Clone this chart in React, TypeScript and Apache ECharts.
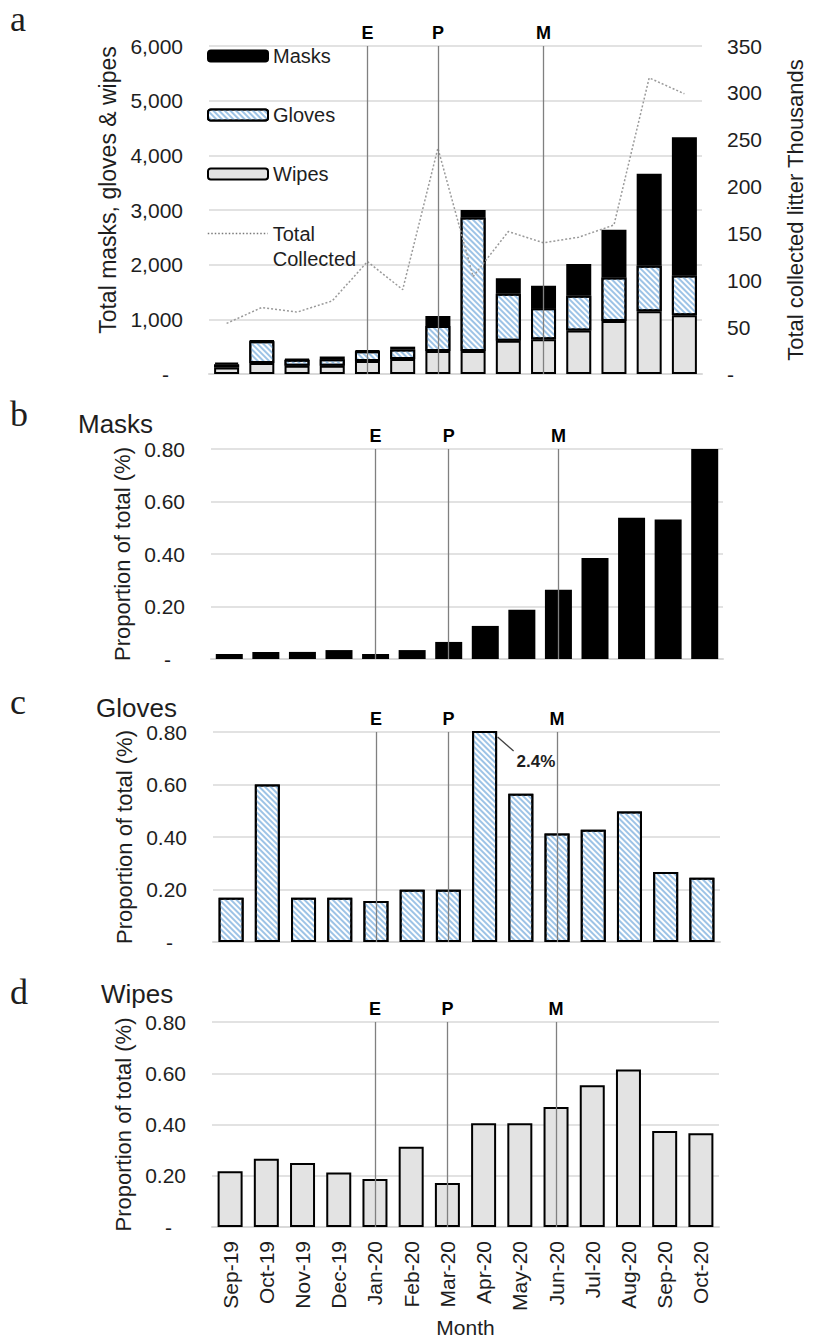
import React, { useEffect, useRef } from "react";
import * as echarts from "echarts";

const months = ["Sep-19", "Oct-19", "Nov-19", "Dec-19", "Jan-20", "Feb-20", "Mar-20", "Apr-20", "May-20", "Jun-20", "Jul-20", "Aug-20", "Sep-20", "Oct-20"];

// Panel a: counts (stacked) and total collected litter (thousands)
const wipesCount = [120, 200, 150, 150, 240, 275, 420, 420, 610, 635, 794, 971, 1148, 1075];
const glovesCount = [55, 400, 110, 120, 175, 175, 458, 2445, 856, 569, 636, 794, 831, 725];
const masksCount = [35, 10, 15, 50, 15, 50, 185, 135, 287, 409, 580, 873, 1686, 2530];
const totalCollected = [54, 71, 66, 78, 120, 90, 241, 104, 152, 140, 146, 159, 316, 299];

// Panels b-d: proportion of total (%)
const masksProp = [0.019, 0.027, 0.027, 0.034, 0.019, 0.034, 0.065, 0.126, 0.188, 0.264, 0.385, 0.538, 0.531, 0.8];
const glovesProp = [0.169, 0.6, 0.169, 0.169, 0.156, 0.199, 0.199, 2.4, 0.565, 0.413, 0.428, 0.497, 0.267, 0.245];
const wipesProp = [0.218, 0.266, 0.25, 0.213, 0.187, 0.313, 0.172, 0.405, 0.405, 0.468, 0.553, 0.615, 0.375, 0.366];

const eventMonths = ["Jan-20", "Mar-20", "Jun-20"];
const eventLabels = ["E", "P", "M"];

const leftTicks = [0, 1000, 2000, 3000, 4000, 5000, 6000];
const propTicks = [0, 0.2, 0.4, 0.6, 0.8];

const SANS = '"Liberation Sans", Arial, sans-serif';
const SERIF = '"Liberation Serif", "Times New Roman", serif';
const TXT = "#1e1e1e";
const GRID_COLOR = "#d9d9d9";

const glovesDecal = {
  symbol: "rect",
  symbolSize: 1,
  color: "#9dc3e6",
  backgroundColor: "#ffffff",
  dashArrayX: [1, 0],
  dashArrayY: [2, 2],
  rotation: Math.PI / 4,
};

const eventLines = () => ({
  silent: true,
  symbol: ["none", "none"],
  lineStyle: { color: "#808080", width: 1.3, type: "solid" },
  label: { show: true, position: "end", formatter: "{b}", fontSize: 18, fontWeight: "bold", color: "#000", distance: 4, fontFamily: SANS },
  emphasis: { disabled: true },
  data: eventMonths.map((m, i) => ({ xAxis: m, name: eventLabels[i] })),
});

const dashRich = (pad: number) => ({ d: { padding: [0, pad, 0, 0], fontSize: 21, color: TXT, fontFamily: SANS } });

export default function App() {
  const ref = useRef<HTMLDivElement>(null);
  useEffect(() => {
    if (!ref.current) return;
    const chart = echarts.init(ref.current, undefined, { renderer: "svg" });
    const grids = [
      { left: 209, right: 102, top: 46, height: 328 },
      { left: 211, right: 91, top: 449, height: 210 },
      { left: 213, right: 94, top: 732, height: 210 },
      { left: 212, right: 95, top: 1022, height: 205 },
    ];
    const xAxes = grids.map((_, i) => ({
      type: "category",
      gridIndex: i,
      data: months,
      axisTick: { show: false },
      axisLine: { show: true, lineStyle: { color: GRID_COLOR, width: 2 } },
      axisLabel:
        i === 3
          ? { show: true, rotate: 90, interval: 0, fontSize: 21, color: TXT, margin: 14, fontFamily: SANS }
          : { show: false },
      name: i === 3 ? "Month" : "",
      nameLocation: "middle",
      nameGap: 90,
      nameTextStyle: { fontSize: 21, color: TXT, fontFamily: SANS },
    }));
    const propAxis = (gi: number) => ({
      type: "value",
      gridIndex: gi,
      min: propTicks[0],
      max: propTicks[propTicks.length - 1],
      interval: 0.2,
      axisLine: { show: false },
      axisTick: { show: false },
      splitLine: { lineStyle: { color: GRID_COLOR, width: 1.5 } },
      axisLabel: {
        fontSize: 21,
        color: TXT,
        margin: 26,
        fontFamily: SANS,
        formatter: (v: number) => (v === 0 ? "{d|-}" : v.toFixed(2)),
        rich: dashRich(14),
      },
      name: "Proportion of total (%)",
      nameLocation: "middle",
      nameGap: 72,
      nameTextStyle: { fontSize: 22, color: TXT, fontFamily: SANS },
    });
    const yAxes = [
      {
        type: "value",
        gridIndex: 0,
        min: leftTicks[0],
        max: leftTicks[leftTicks.length - 1],
        interval: 1000,
        axisLine: { show: false },
        axisTick: { show: false },
        splitLine: { lineStyle: { color: GRID_COLOR, width: 1.5 } },
        axisLabel: {
          fontSize: 21,
          color: TXT,
          margin: 26,
          fontFamily: SANS,
          formatter: (v: number) => (v === 0 ? "{d|-}" : v.toLocaleString("en-US")),
          rich: dashRich(14),
        },
        name: "Total masks, gloves & wipes",
        nameLocation: "middle",
        nameGap: 86,
        nameTextStyle: { fontSize: 23, color: TXT, fontFamily: SANS, padding: [0, 0, 0, 40] },
      },
      {
        type: "value",
        gridIndex: 0,
        position: "right",
        min: 0,
        max: 350,
        interval: 50,
        axisLine: { show: false },
        axisTick: { show: false },
        splitLine: { show: false },
        axisLabel: {
          fontSize: 21,
          color: TXT,
          margin: 25,
          fontFamily: SANS,
          formatter: (v: number) => (v === 0 ? "-" : String(v)),
        },
        name: "Total collected litter Thousands",
        nameLocation: "middle",
        nameGap: 82,
        nameTextStyle: { fontSize: 22, color: TXT, fontFamily: SANS },
      },
      propAxis(1),
      propAxis(2),
      propAxis(3),
    ];
    const border = { borderColor: "#000", borderWidth: 2 };
    const series: any[] = [
      {
        name: "Wipes",
        type: "bar",
        xAxisIndex: 0,
        yAxisIndex: 0,
        stack: "a",
        barWidth: 25,
        data: wipesCount,
        itemStyle: { color: "#e3e3e3", ...border },
        markLine: eventLines(),
      },
      {
        name: "Gloves",
        type: "bar",
        xAxisIndex: 0,
        yAxisIndex: 0,
        stack: "a",
        barWidth: 25,
        data: glovesCount,
        itemStyle: { color: "#ffffff", decal: glovesDecal, ...border },
      },
      {
        name: "Masks",
        type: "bar",
        xAxisIndex: 0,
        yAxisIndex: 0,
        stack: "a",
        barWidth: 25,
        data: masksCount,
        itemStyle: { color: "#000000", ...border },
      },
      {
        name: "Total Collected",
        type: "line",
        xAxisIndex: 0,
        yAxisIndex: 1,
        data: totalCollected,
        symbol: "none",
        lineStyle: { color: "#9a9a9a", width: 1.5, type: [2, 2] },
        itemStyle: { color: "#9a9a9a" },
        z: 3,
      },
      {
        name: "Masks proportion",
        type: "bar",
        xAxisIndex: 1,
        yAxisIndex: 2,
        barWidth: 27,
        data: masksProp,
        itemStyle: { color: "#000000" },
        markLine: eventLines(),
      },
      {
        name: "Gloves proportion",
        type: "bar",
        xAxisIndex: 2,
        yAxisIndex: 3,
        barWidth: 25,
        clip: true,
        data: glovesProp,
        itemStyle: { color: "#ffffff", decal: glovesDecal, ...border },
        markLine: eventLines(),
      },
      {
        name: "Wipes proportion",
        type: "bar",
        xAxisIndex: 3,
        yAxisIndex: 4,
        barWidth: 25,
        data: wipesProp,
        itemStyle: { color: "#e3e3e3", ...border },
        markLine: eventLines(),
      },
    ];
    chart.setOption({
      animation: false,
      backgroundColor: "#ffffff",
      textStyle: { fontFamily: SANS },
      grid: grids,
      xAxis: xAxes,
      yAxis: yAxes,
      legend: [
        {
          orient: "vertical",
          left: 207,
          top: 46,
          padding: 0,
          itemWidth: 60,
          itemHeight: 11,
          itemGap: 39,
          textStyle: { fontSize: 20, color: TXT, fontFamily: SANS },
          selectedMode: false,
          data: ["Masks", "Gloves", "Wipes"],
        },
        {
          orient: "vertical",
          left: 207,
          top: 196,
          padding: 0,
          itemWidth: 60,
          itemHeight: 11,
          selectedMode: false,
          itemStyle: { opacity: 0 },
          lineStyle: { color: "#7a7a7a", width: 1.5, type: [1.5, 2] },
          formatter: () => "\nTotal\nCollected",
          textStyle: { fontSize: 20, lineHeight: 25, color: TXT, fontFamily: SANS },
          data: ["Total Collected"],
        },
      ],
      series,
    });

    const [ax, ay] = chart.convertToPixel({ gridIndex: 2 }, [7, 0.8]) as number[];
    const textEl = (text: string, x: number, y: number, size: number, family: string, weight = "normal") => ({
      type: "text",
      x,
      y,
      silent: true,
      style: { text, fontSize: size, fontFamily: family, fontWeight: weight, fill: TXT, align: "left", verticalAlign: "middle" },
    });
    chart.setOption({
      graphic: [
        textEl("a", 10, 19, 36, SERIF),
        textEl("b", 10, 414, 36, SERIF),
        textEl("c", 10, 702, 36, SERIF),
        textEl("d", 10, 992, 36, SERIF),
        textEl("Masks", 78, 424, 26, SANS),
        textEl("Gloves", 96, 708, 26, SANS),
        textEl("Wipes", 101, 994, 26, SANS),
        {
          type: "line",
          silent: true,
          shape: { x1: ax + 13, y1: ay + 5, x2: ax + 29, y2: ay + 19 },
          style: { stroke: "#404040", lineWidth: 1.3 },
        },
        textEl("2.4%", ax + 32, ay + 29, 17, SANS, "bold"),
      ],
    });
    return () => chart.dispose();
  }, []);
  return <div ref={ref} style={{ position: "absolute", left: 0, top: 0, width: 814, height: 1342 }} />;
}
